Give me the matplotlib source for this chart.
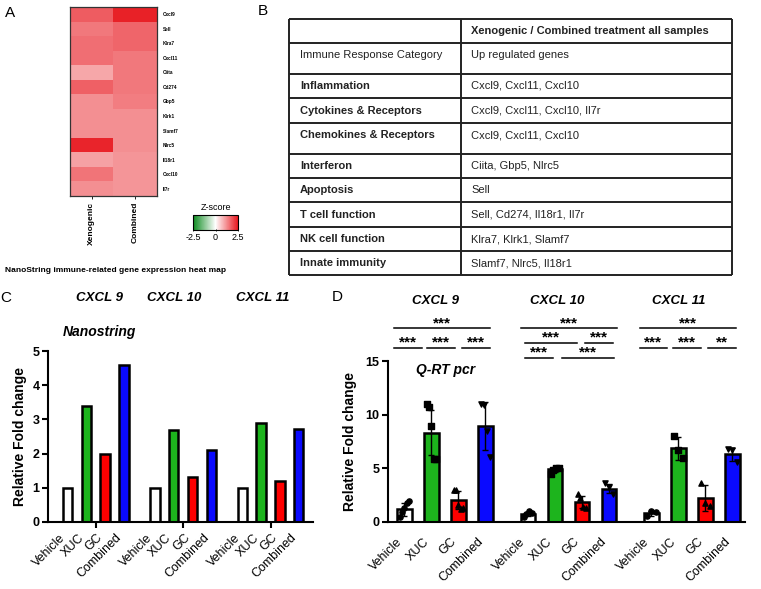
import numpy as np
import matplotlib
matplotlib.use("Agg")
import matplotlib.pyplot as plt
from matplotlib.colors import LinearSegmentedColormap

plt.rcParams['font.family'] = ['Liberation Sans', 'DejaVu Sans']

W, H = 761, 589

# ---- panel A : heat map z-scores
genes = ["Cxcl9", "Sell", "Klra7", "Cxcl11", "Ciita", "Cd274", "Gbp5",
         "Klrk1", "Slamf7", "Nlrc5", "Il18r1", "Cxcl10", "Il7r"]
heat_groups = ["Xenogenic", "Combined"]
z_xeno = [1.75, 1.45, 1.55, 1.55, 0.95, 1.7, 1.2, 1.2, 1.2, 2.35, 1.0, 1.5, 1.2]
z_comb = [2.4, 1.65, 1.65, 1.45, 1.45, 1.45, 1.4, 1.2, 1.2, 1.2, 1.15, 1.15, 1.15]

# ---- panel B : table
table_header = "Xenogenic / Combined treatment all samples"
categories = ["Immune Response Category", "Inflammation", "Cytokines & Receptors",
              "Chemokines & Receptors", "Interferon", "Apoptosis", "T cell function",
              "NK cell function", "Innate immunity"]
up_genes = ["Up regulated genes", "Cxcl9, Cxcl11, Cxcl10", "Cxcl9, Cxcl11, Cxcl10, Il7r",
            "Cxcl9, Cxcl11, Cxcl10", "Ciita, Gbp5, Nlrc5", "Sell",
            "Sell, Cd274, Il18r1, Il7r", "Klra7, Klrk1, Slamf7", "Slamf7, Nlrc5, Il18r1"]

# ---- panels C / D
chemokines = ["CXCL 9", "CXCL 10", "CXCL 11"]
treatments = ["Vehicle", "XUC", "GC", "Combined"]
nano_fc = [[1.0, 3.38, 1.98, 4.6],
           [1.0, 2.69, 1.32, 2.1],
           [1.0, 2.9, 1.2, 2.73]]
qpcr_mean = [[1.2, 8.3, 2.05, 8.95],
             [0.75, 4.9, 1.85, 3.1],
             [0.8, 6.85, 2.25, 6.3]]
qpcr_sd = [[0.6, 2.1, 0.8, 2.2],
           [0.2, 0.2, 0.55, 0.4],
           [0.2, 1.1, 1.2, 0.6]]
qpcr_points = [
    [[0.5, 0.9, 1.3, 1.8, 2.0], [11.0, 10.7, 8.9, 5.85, 5.85], [3.0, 3.0, 1.6, 1.2, 1.3], [11.0, 10.9, 8.5, 6.1]],
    [[0.5, 0.7, 1.0, 0.8], [4.5, 4.8, 5.0, 5.0], [2.6, 2.2, 1.4, 1.3], [3.6, 3.3, 2.6]],
    [[0.6, 1.0, 0.9], [8.0, 6.7, 6.0], [3.6, 1.8, 1.5], [6.8, 6.7, 5.6]],
]

bar_colors = ["white", "#1db41d", "#ff0000", "#0a0aff"]
markers = ["o", "s", "^", "v"]


def px_axes(fig, x0, y0, x1, y1):
    return fig.add_axes([x0 / W, 1 - y1 / H, (x1 - x0) / W, (y1 - y0) / H])


def ftext(fig, x, y, s, **kw):
    fig.text(x / W, 1 - y / H, s, **kw)


fig = plt.figure(figsize=(W / 100, H / 100), dpi=100)

# ================= A
cmap = LinearSegmentedColormap.from_list("gwr", ["#0b8a1e", "#ffffff", "#e8181f"])
ax = px_axes(fig, 70, 7, 157, 196)
zmat = np.array([z_xeno, z_comb]).T
im = ax.imshow(zmat, cmap=cmap, vmin=-2.5, vmax=2.5, aspect="auto")
ax.yaxis.tick_right()
ax.set_yticks(range(len(genes)))
ax.set_yticklabels(genes, fontsize=3.4, fontweight="bold")
ax.tick_params(axis="y", length=0, pad=4)
ax.set_xticks(range(len(heat_groups)))
ax.set_xticklabels(heat_groups, rotation=90, fontsize=6, fontweight="bold")
ax.tick_params(axis="x", length=2, width=0.6, pad=2)
for sp in ax.spines.values():
    sp.set_color("#333333")
    sp.set_linewidth(0.9)

cax = px_axes(fig, 193, 215, 238, 230)
cb = fig.colorbar(im, cax=cax, orientation="horizontal", ticks=[-2.5, 0, 2.5])
cb.ax.set_xticklabels(["-2.5", "0", "2.5"])
cb.ax.tick_params(labelsize=6.5, length=2, width=0.6, pad=1.5, direction="inout")
cb.outline.set_linewidth(0.8)
ftext(fig, 216, 208, "Z-score", fontsize=6.5, ha="center", va="center")
ftext(fig, 5, 271, "NanoString immune-related gene expression heat map",
      fontsize=6, fontweight="bold", va="center")

# ================= B
tx = px_axes(fig, 289, 19, 732, 275)
tx.set_xlim(0, 443)
tx.set_ylim(256, 0)
tx.axis("off")
row_edges = [0, 24, 55, 79, 104, 135, 159, 183, 208, 232, 256]
tx.hlines(row_edges, 0, 443, color="#222222", lw=1.4, clip_on=False)
tx.vlines([0, 172, 443], 0, 256, color="#222222", lw=1.4, clip_on=False)
tx.text(182, 12, table_header, fontsize=8, fontweight="bold", va="center", color="#222222")
for i in range(len(categories)):
    top, bot = row_edges[i + 1], row_edges[i + 2]
    if bot - top > 28:
        yc = top + 12.5
    else:
        yc = (top + bot) / 2
    w = "normal" if i == 0 else "bold"
    tx.text(11, yc, categories[i], fontsize=8, fontweight=w, va="center", color="#222222")
    tx.text(182, yc, up_genes[i], fontsize=8, va="center", color="#222222")

# ================= C
gap_c = 4.65
axc = px_axes(fig, 48, 351, 313, 522)
xc_all = []
for g in range(3):
    xs = g * gap_c + np.arange(4)
    xc_all.extend(xs)
    axc.bar(xs, nano_fc[g], width=0.5, color=bar_colors, edgecolor="black", linewidth=1.8, zorder=2)
axc.set_xlim(-1.04, 13.06)
axc.set_ylim(0, 5)
axc.set_yticks(range(6))
axc.set_xticks(xc_all)
axc.set_xticklabels(treatments * 3, rotation=45, ha="right", fontsize=9)
axc.tick_params(axis="x", length=0, pad=7)
axc.set_xticks([g * gap_c + 1.5 for g in range(3)], minor=True)
axc.tick_params(axis="x", which="minor", length=4, width=1.5)
axc.set_ylabel("Relative Fold change", fontsize=10, fontweight="bold", labelpad=4)

# ================= D
gap_d = 4.57
axd = px_axes(fig, 388, 361, 745, 522)
xd_all = []
for g in range(3):
    xs = g * gap_d + np.arange(4)
    xd_all.extend(xs)
    axd.bar(xs, qpcr_mean[g], width=0.54, color=bar_colors, edgecolor="black", linewidth=1.8, zorder=2)
    axd.errorbar(xs, qpcr_mean[g], yerr=qpcr_sd[g], fmt="none", ecolor="black",
                 elinewidth=1, capsize=2.5, capthick=1, zorder=3)
    for i in range(4):
        pts = qpcr_points[g][i]
        off = np.linspace(-0.16, 0.16, len(pts))
        axd.scatter(xs[i] + off, pts, marker=markers[i], s=14, color="black", zorder=4)
axd.set_xlim(-0.61, 12.61)
axd.set_ylim(0, 15)
axd.set_yticks([0, 5, 10, 15])
axd.set_xticks(xd_all)
axd.set_xticklabels(treatments * 3, rotation=45, ha="right", fontsize=9)
axd.tick_params(axis="x", length=0, pad=10)
axd.set_ylabel("Relative Fold change", fontsize=10, fontweight="bold", labelpad=6)

# significance brackets (x0, x1, y, label) in axis data units
sig_marks = [
    (-0.39, 3.17, 18.07, "***"), (-0.39, 0.65, 16.21, "***"), (0.83, 1.87, 16.21, "***"), (2.13, 3.17, 16.21, "***"),
    (4.30, 7.87, 18.07, "***"), (4.48, 6.39, 16.68, "***"), (6.69, 7.72, 16.68, "***"),
    (4.48, 5.50, 15.28, "***"), (5.83, 7.76, 15.28, "***"),
    (8.72, 12.28, 18.07, "***"), (8.72, 9.72, 16.21, "***"), (9.94, 10.98, 16.21, "***"), (11.24, 12.28, 16.21, "**"),
]
for x0, x1, y, lab in sig_marks:
    axd.plot([x0, x1], [y, y], color="black", lw=1.1, clip_on=False)
    axd.text((x0 + x1) / 2, y + 0.1, lab, fontsize=11, fontweight="bold", ha="center", va="baseline")

for a in (axc, axd):
    a.spines["top"].set_visible(False)
    a.spines["right"].set_visible(False)
    a.spines["left"].set_linewidth(1.5)
    a.spines["bottom"].set_linewidth(1.5)
    a.tick_params(axis="y", length=4, width=1.5, labelsize=9, pad=2)
    for t in a.get_yticklabels():
        t.set_fontweight("bold")

# ================= titles / labels
for x, s in zip([99, 174, 263], chemokines):
    ftext(fig, x, 298, s, fontsize=9.5, fontweight="bold", style="italic", ha="center", va="center")
for x, s in zip([436, 557, 679], chemokines):
    ftext(fig, x, 301, s, fontsize=9.5, fontweight="bold", style="italic", ha="center", va="center")
ftext(fig, 63, 332, "Nanostring", fontsize=10, fontweight="bold", style="italic", va="center")
ftext(fig, 416, 370, "Q-RT pcr", fontsize=10, fontweight="bold", style="italic", va="center")

for x, y, s in [(10, 13, "A"), (263, 11, "B"), (6, 298, "C"), (337, 297, "D")]:
    ftext(fig, x, y, s, fontsize=11, ha="center", va="center")

fig.savefig("out.png", dpi=100)
